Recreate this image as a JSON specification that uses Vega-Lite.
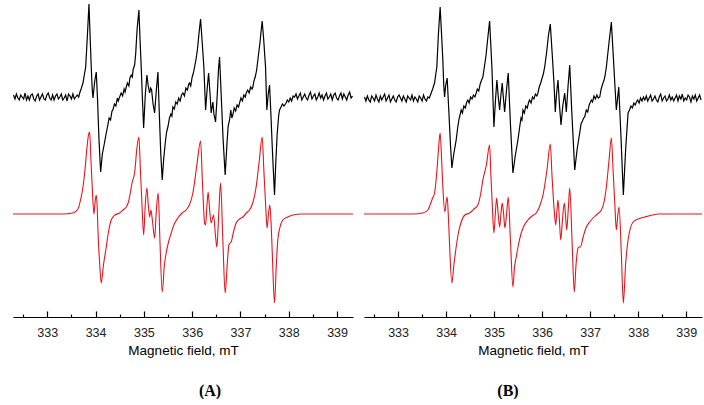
{
"$schema":"https://vega.github.io/schema/vega-lite/v6.json",
"padding":{"left":10,"top":0,"right":0,"bottom":0},
"spacing":11,
"bounds":"flush",
"background":"white",
"config":{"view":{"stroke":null},"font":"Liberation Sans",
"axis":{"domainColor":"#000","domainWidth":1.2,"tickColor":"#000","tickWidth":1.2,"labelColor":"#222","labelFontSize":12.5,"titleFontSize":13.5,"titleFontWeight":"normal","titleColor":"#000","grid":false}},
"datasets":{
"expA":[
{"f":332.30,"s":119},{"f":332.33,"s":115},{"f":332.36,"s":120},{"f":332.39,"s":116},{"f":332.42,"s":114},{"f":332.45,"s":119},{"f":332.48,"s":117},{"f":332.51,"s":115},{"f":332.54,"s":121},{"f":332.57,"s":114},{"f":332.60,"s":118},{"f":332.63,"s":114},{"f":332.66,"s":119},{"f":332.69,"s":120},{"f":332.72,"s":115},{"f":332.75,"s":113},{"f":332.78,"s":118},{"f":332.81,"s":120},{"f":332.84,"s":114},{"f":332.87,"s":117},{"f":332.90,"s":120},{"f":332.93,"s":115},{"f":332.96,"s":114},{"f":332.99,"s":119},{"f":333.02,"s":121},{"f":333.05,"s":116},{"f":333.08,"s":114},{"f":333.11,"s":119},{"f":333.14,"s":114},{"f":333.17,"s":118},{"f":333.20,"s":120},{"f":333.23,"s":115},{"f":333.26,"s":117},{"f":333.29,"s":120},{"f":333.32,"s":114},{"f":333.35,"s":116},{"f":333.38,"s":119},{"f":333.41,"s":113},{"f":333.44,"s":120},{"f":333.47,"s":118},{"f":333.50,"s":115},{"f":333.53,"s":120},{"f":333.56,"s":115},{"f":333.59,"s":117},{"f":333.62,"s":119},{"f":333.65,"s":117},
{"f":333.677,"s":122},{"f":333.70,"s":125},{"f":333.739,"s":131},{"f":333.77,"s":140},{"f":333.795,"s":147},{"f":333.832,"s":180},{"f":333.863,"s":210},{"f":333.885,"s":180},{"f":333.910,"s":147},{"f":333.93,"s":125},{"f":333.946,"s":116},{"f":333.98,"s":132},{"f":334.014,"s":142},{"f":334.04,"s":115},{"f":334.07,"s":75},{"f":334.105,"s":42},{"f":334.14,"s":60},{"f":334.18,"s":70},{"f":334.221,"s":81},{"f":334.25,"s":88},{"f":334.28,"s":96},{"f":334.31,"s":94},{"f":334.34,"s":103},{"f":334.359,"s":104},{"f":334.39,"s":110},{"f":334.42,"s":108},{"f":334.45,"s":116},{"f":334.47,"s":113},{"f":334.498,"s":117},{"f":334.53,"s":121},{"f":334.56,"s":118},{"f":334.59,"s":125},{"f":334.61,"s":122},{"f":334.635,"s":127},{"f":334.66,"s":131},{"f":334.69,"s":128},{"f":334.71,"s":136},{"f":334.738,"s":139},{"f":334.76,"s":137},{"f":334.78,"s":145},{"f":334.808,"s":149},{"f":334.83,"s":160},{"f":334.86,"s":185},{"f":334.897,"s":204},{"f":334.92,"s":175},{"f":334.945,"s":147},{"f":334.97,"s":115},{"f":334.995,"s":86},{"f":335.03,"s":120},{"f":335.063,"s":139},{"f":335.09,"s":128},{"f":335.119,"s":121},{"f":335.14,"s":126},{"f":335.160,"s":124},{"f":335.19,"s":110},{"f":335.222,"s":101},{"f":335.26,"s":125},{"f":335.291,"s":142},{"f":335.32,"s":100},{"f":335.35,"s":60},{"f":335.380,"s":34},{"f":335.41,"s":55},{"f":335.44,"s":70},{"f":335.47,"s":82},{"f":335.497,"s":87},{"f":335.53,"s":96},{"f":335.56,"s":100},{"f":335.58,"s":98},{"f":335.601,"s":107},{"f":335.63,"s":105},{"f":335.66,"s":112},{"f":335.69,"s":110},{"f":335.72,"s":116},{"f":335.75,"s":113},{"f":335.78,"s":119},{"f":335.808,"s":121},{"f":335.84,"s":118},{"f":335.87,"s":126},{"f":335.90,"s":124},{"f":335.93,"s":130},{"f":335.946,"s":131},{"f":335.97,"s":128},{"f":336.00,"s":137},{"f":336.025,"s":141},{"f":336.050,"s":147},{"f":336.08,"s":155},{"f":336.11,"s":165},{"f":336.14,"s":180},{"f":336.174,"s":195},{"f":336.21,"s":170},{"f":336.242,"s":147},{"f":336.278,"s":104},{"f":336.31,"s":125},{"f":336.340,"s":141},{"f":336.37,"s":120},{"f":336.393,"s":101},{"f":336.429,"s":112},{"f":336.45,"s":100},{"f":336.484,"s":92},{"f":336.52,"s":120},{"f":336.545,"s":145},{"f":336.567,"s":157},{"f":336.60,"s":120},{"f":336.64,"s":75},{"f":336.683,"s":39},{"f":336.72,"s":70},{"f":336.745,"s":88},{"f":336.774,"s":94},{"f":336.80,"s":104},{"f":336.82,"s":96},{"f":336.842,"s":99},{"f":336.87,"s":106},{"f":336.90,"s":103},{"f":336.93,"s":109},{"f":336.96,"s":107},{"f":336.981,"s":111},{"f":337.01,"s":116},{"f":337.04,"s":113},{"f":337.07,"s":119},{"f":337.10,"s":117},{"f":337.118,"s":121},{"f":337.15,"s":124},{"f":337.18,"s":121},{"f":337.21,"s":127},{"f":337.24,"s":125},{"f":337.256,"s":127},{"f":337.28,"s":133},{"f":337.31,"s":138},{"f":337.335,"s":144},{"f":337.360,"s":154},{"f":337.40,"s":170},{"f":337.449,"s":193},{"f":337.48,"s":175},{"f":337.519,"s":147},{"f":337.546,"s":104},{"f":337.575,"s":120},{"f":337.602,"s":129},{"f":337.63,"s":100},{"f":337.66,"s":65},{"f":337.705,"s":19},{"f":337.73,"s":50},{"f":337.76,"s":80},{"f":337.79,"s":98},{"f":337.809,"s":104},{"f":337.84,"s":107},{"f":337.87,"s":110},{"f":337.90,"s":108},{"f":337.945,"s":111},{"f":337.97,"s":114},{"f":338.00,"s":112},{"f":338.03,"s":116},{"f":338.06,"s":113},{"f":338.09,"s":118},{"f":338.119,"s":117},
{"f":338.15,"s":120},{"f":338.18,"s":115},{"f":338.21,"s":118},{"f":338.24,"s":121},{"f":338.27,"s":114},{"f":338.30,"s":117},{"f":338.33,"s":120},{"f":338.36,"s":116},{"f":338.39,"s":114},{"f":338.42,"s":119},{"f":338.45,"s":122},{"f":338.48,"s":115},{"f":338.51,"s":118},{"f":338.54,"s":120},{"f":338.57,"s":114},{"f":338.60,"s":117},{"f":338.63,"s":121},{"f":338.66,"s":116},{"f":338.69,"s":119},{"f":338.72,"s":114},{"f":338.75,"s":118},{"f":338.78,"s":121},{"f":338.81,"s":115},{"f":338.84,"s":117},{"f":338.87,"s":120},{"f":338.90,"s":114},{"f":338.93,"s":119},{"f":338.96,"s":121},{"f":338.99,"s":116},{"f":339.02,"s":114},{"f":339.05,"s":118},{"f":339.08,"s":121},{"f":339.11,"s":115},{"f":339.14,"s":120},{"f":339.17,"s":117},{"f":339.20,"s":114},{"f":339.23,"s":119},{"f":339.26,"s":122},{"f":339.29,"s":116},{"f":339.32,"s":118}
],
"simA":[
{"f":332.29,"s":0},{"f":333.00,"s":0},{"f":333.325,"s":0},{"f":333.532,"s":1},{"f":333.635,"s":5},{"f":333.697,"s":16},{"f":333.739,"s":27},{"f":333.780,"s":44},{"f":333.821,"s":66},{"f":333.850,"s":78},{"f":333.877,"s":82},{"f":333.904,"s":54},{"f":333.931,"s":27},{"f":333.966,"s":0},{"f":333.990,"s":12},{"f":334.014,"s":19},{"f":334.035,"s":5},{"f":334.049,"s":-16},{"f":334.085,"s":-50},{"f":334.117,"s":-69},{"f":334.163,"s":-51},{"f":334.221,"s":-33},{"f":334.270,"s":-17},{"f":334.324,"s":-6},{"f":334.401,"s":-1},{"f":334.498,"s":1},{"f":334.570,"s":4},{"f":334.635,"s":7},{"f":334.680,"s":12},{"f":334.711,"s":19},{"f":334.759,"s":32},{"f":334.808,"s":41},{"f":334.856,"s":66},{"f":334.897,"s":77},{"f":334.928,"s":44},{"f":334.959,"s":11},{"f":334.995,"s":-21},{"f":335.028,"s":9},{"f":335.063,"s":26},{"f":335.090,"s":10},{"f":335.119,"s":-3},{"f":335.146,"s":4},{"f":335.180,"s":-8},{"f":335.222,"s":-24},{"f":335.260,"s":5},{"f":335.297,"s":21},{"f":335.332,"s":-26},{"f":335.380,"s":-78},{"f":335.425,"s":-51},{"f":335.462,"s":-39},{"f":335.510,"s":-28},{"f":335.566,"s":-19},{"f":335.630,"s":-10},{"f":335.704,"s":-4},{"f":335.790,"s":1},{"f":335.876,"s":4},{"f":335.950,"s":10},{"f":336.015,"s":21},{"f":336.097,"s":49},{"f":336.174,"s":73},{"f":336.211,"s":34},{"f":336.257,"s":-9},{"f":336.278,"s":-11},{"f":336.305,"s":8},{"f":336.331,"s":22},{"f":336.360,"s":5},{"f":336.393,"s":-9},{"f":336.443,"s":-1},{"f":336.480,"s":-20},{"f":336.511,"s":-33},{"f":336.550,"s":0},{"f":336.588,"s":31},{"f":336.635,"s":-26},{"f":336.683,"s":-79},{"f":336.729,"s":-48},{"f":336.760,"s":-31},{"f":336.785,"s":-29},{"f":336.807,"s":-28},{"f":336.860,"s":-17},{"f":336.911,"s":-9},{"f":336.980,"s":-5},{"f":337.049,"s":-3},{"f":337.120,"s":1},{"f":337.188,"s":4},{"f":337.260,"s":12},{"f":337.324,"s":27},{"f":337.391,"s":54},{"f":337.449,"s":77},{"f":337.484,"s":44},{"f":337.519,"s":11},{"f":337.552,"s":-14},{"f":337.580,"s":0},{"f":337.608,"s":9},{"f":337.635,"s":-10},{"f":337.660,"s":-41},{"f":337.705,"s":-89},{"f":337.742,"s":-51},{"f":337.773,"s":-26},{"f":337.820,"s":-13},{"f":337.877,"s":-6},{"f":337.980,"s":-3},{"f":338.084,"s":-1},{"f":338.290,"s":0},{"f":339.33,"s":0}
],
"expB":[
{"f":332.30,"s":117},{"f":332.33,"s":113},{"f":332.36,"s":118},{"f":332.39,"s":114},{"f":332.42,"s":112},{"f":332.45,"s":118},{"f":332.48,"s":116},{"f":332.51,"s":113},{"f":332.54,"s":119},{"f":332.57,"s":115},{"f":332.60,"s":112},{"f":332.63,"s":118},{"f":332.66,"s":114},{"f":332.69,"s":117},{"f":332.72,"s":120},{"f":332.75,"s":113},{"f":332.78,"s":116},{"f":332.81,"s":119},{"f":332.84,"s":112},{"f":332.87,"s":115},{"f":332.90,"s":118},{"f":332.93,"s":114},{"f":332.96,"s":112},{"f":332.99,"s":117},{"f":333.02,"s":119},{"f":333.05,"s":116},{"f":333.08,"s":113},{"f":333.11,"s":118},{"f":333.14,"s":115},{"f":333.17,"s":112},{"f":333.20,"s":118},{"f":333.23,"s":116},{"f":333.26,"s":114},{"f":333.29,"s":119},{"f":333.32,"s":113},{"f":333.35,"s":117},{"f":333.38,"s":115},{"f":333.41,"s":112},{"f":333.44,"s":118},{"f":333.47,"s":116},{"f":333.50,"s":113},{"f":333.53,"s":119},{"f":333.56,"s":115},{"f":333.59,"s":113},{"f":333.62,"s":117},{"f":333.65,"s":116},
{"f":333.682,"s":120},{"f":333.72,"s":125},{"f":333.759,"s":131},{"f":333.78,"s":138},{"f":333.807,"s":147},{"f":333.84,"s":180},{"f":333.876,"s":207},{"f":333.90,"s":185},{"f":333.932,"s":154},{"f":333.95,"s":130},{"f":333.968,"s":117},{"f":333.99,"s":128},{"f":334.022,"s":136},{"f":334.06,"s":100},{"f":334.09,"s":70},{"f":334.120,"s":46},{"f":334.16,"s":60},{"f":334.210,"s":74},{"f":334.24,"s":86},{"f":334.27,"s":95},{"f":334.29,"s":99},{"f":334.314,"s":104},{"f":334.34,"s":101},{"f":334.37,"s":108},{"f":334.40,"s":106},{"f":334.43,"s":112},{"f":334.454,"s":114},{"f":334.48,"s":111},{"f":334.51,"s":117},{"f":334.54,"s":115},{"f":334.57,"s":119},{"f":334.60,"s":117},{"f":334.627,"s":121},{"f":334.65,"s":125},{"f":334.68,"s":123},{"f":334.71,"s":130},{"f":334.74,"s":134},{"f":334.766,"s":137},{"f":334.80,"s":148},{"f":334.83,"s":158},{"f":334.86,"s":172},{"f":334.906,"s":193},{"f":334.93,"s":170},{"f":334.954,"s":147},{"f":334.996,"s":87},{"f":335.03,"s":115},{"f":335.058,"s":134},{"f":335.085,"s":118},{"f":335.115,"s":104},{"f":335.14,"s":118},{"f":335.169,"s":131},{"f":335.195,"s":115},{"f":335.219,"s":102},{"f":335.26,"s":125},{"f":335.294,"s":141},{"f":335.34,"s":90},{"f":335.392,"s":41},{"f":335.44,"s":58},{"f":335.496,"s":74},{"f":335.53,"s":86},{"f":335.56,"s":96},{"f":335.58,"s":94},{"f":335.601,"s":104},{"f":335.63,"s":101},{"f":335.66,"s":108},{"f":335.69,"s":106},{"f":335.72,"s":112},{"f":335.740,"s":114},{"f":335.77,"s":111},{"f":335.80,"s":117},{"f":335.83,"s":115},{"f":335.86,"s":120},{"f":335.89,"s":118},{"f":335.913,"s":121},{"f":335.94,"s":127},{"f":335.97,"s":131},{"f":336.00,"s":136},{"f":336.025,"s":140},{"f":336.053,"s":147},{"f":336.09,"s":160},{"f":336.13,"s":178},{"f":336.170,"s":190},{"f":336.21,"s":160},{"f":336.247,"s":131},{"f":336.274,"s":102},{"f":336.30,"s":120},{"f":336.331,"s":134},{"f":336.36,"s":110},{"f":336.393,"s":89},{"f":336.43,"s":108},{"f":336.470,"s":121},{"f":336.49,"s":110},{"f":336.504,"s":102},{"f":336.54,"s":128},{"f":336.575,"s":149},{"f":336.62,"s":100},{"f":336.679,"s":44},{"f":336.73,"s":65},{"f":336.783,"s":81},{"f":336.81,"s":90},{"f":336.84,"s":93},{"f":336.865,"s":96},{"f":336.887,"s":97},{"f":336.92,"s":104},{"f":336.95,"s":102},{"f":336.98,"s":109},{"f":337.025,"s":114},{"f":337.05,"s":112},{"f":337.08,"s":118},{"f":337.11,"s":115},{"f":337.14,"s":119},{"f":337.17,"s":116},{"f":337.200,"s":117},{"f":337.23,"s":125},{"f":337.26,"s":130},{"f":337.29,"s":134},{"f":337.31,"s":138},{"f":337.338,"s":147},{"f":337.39,"s":170},{"f":337.442,"s":192},{"f":337.48,"s":160},{"f":337.513,"s":131},{"f":337.546,"s":104},{"f":337.57,"s":115},{"f":337.596,"s":127},{"f":337.64,"s":80},{"f":337.692,"s":19},{"f":337.74,"s":65},{"f":337.790,"s":101},{"f":337.82,"s":104},{"f":337.85,"s":108},{"f":337.88,"s":106},{"f":337.91,"s":111},{"f":337.94,"s":109},{"f":337.963,"s":112},{"f":337.99,"s":114},{"f":338.02,"s":111},{"f":338.05,"s":116},{"f":338.08,"s":113},{"f":338.11,"s":117},{"f":338.14,"s":114},
{"f":338.17,"s":118},{"f":338.20,"s":113},{"f":338.23,"s":116},{"f":338.26,"s":119},{"f":338.29,"s":113},{"f":338.32,"s":115},{"f":338.35,"s":118},{"f":338.38,"s":114},{"f":338.41,"s":112},{"f":338.44,"s":117},{"f":338.47,"s":120},{"f":338.50,"s":113},{"f":338.53,"s":116},{"f":338.56,"s":118},{"f":338.59,"s":113},{"f":338.62,"s":115},{"f":338.65,"s":119},{"f":338.68,"s":114},{"f":338.71,"s":117},{"f":338.74,"s":113},{"f":338.77,"s":116},{"f":338.80,"s":119},{"f":338.83,"s":113},{"f":338.86,"s":118},{"f":338.89,"s":115},{"f":338.92,"s":120},{"f":338.95,"s":113},{"f":338.98,"s":116},{"f":339.01,"s":114},{"f":339.04,"s":119},{"f":339.07,"s":117},{"f":339.10,"s":112},{"f":339.13,"s":118},{"f":339.16,"s":115},{"f":339.19,"s":119},{"f":339.22,"s":113},{"f":339.25,"s":116},{"f":339.28,"s":119},{"f":339.31,"s":114}
],
"simB":[
{"f":332.29,"s":0},{"f":333.00,"s":0},{"f":333.300,"s":0},{"f":333.515,"s":1},{"f":333.620,"s":4},{"f":333.682,"s":11},{"f":333.720,"s":16},{"f":333.759,"s":21},{"f":333.790,"s":33},{"f":333.818,"s":49},{"f":333.850,"s":70},{"f":333.876,"s":81},{"f":333.907,"s":54},{"f":333.932,"s":27},{"f":333.974,"s":2},{"f":334.000,"s":12},{"f":334.022,"s":17},{"f":334.045,"s":0},{"f":334.068,"s":-26},{"f":334.120,"s":-69},{"f":334.162,"s":-51},{"f":334.210,"s":-33},{"f":334.260,"s":-18},{"f":334.314,"s":-8},{"f":334.391,"s":-1},{"f":334.489,"s":1},{"f":334.580,"s":5},{"f":334.662,"s":9},{"f":334.720,"s":20},{"f":334.766,"s":34},{"f":334.839,"s":49},{"f":334.906,"s":69},{"f":334.933,"s":39},{"f":334.960,"s":11},{"f":334.996,"s":-19},{"f":335.025,"s":0},{"f":335.052,"s":16},{"f":335.085,"s":0},{"f":335.115,"s":-13},{"f":335.142,"s":0},{"f":335.169,"s":11},{"f":335.198,"s":0},{"f":335.225,"s":-14},{"f":335.260,"s":0},{"f":335.294,"s":17},{"f":335.340,"s":-26},{"f":335.392,"s":-73},{"f":335.423,"s":-54},{"f":335.461,"s":-43},{"f":335.510,"s":-30},{"f":335.565,"s":-19},{"f":335.630,"s":-11},{"f":335.705,"s":-6},{"f":335.790,"s":-2},{"f":335.878,"s":1},{"f":335.950,"s":8},{"f":336.018,"s":19},{"f":336.101,"s":44},{"f":336.170,"s":70},{"f":336.205,"s":39},{"f":336.247,"s":7},{"f":336.283,"s":-11},{"f":336.308,"s":3},{"f":336.331,"s":14},{"f":336.360,"s":-6},{"f":336.387,"s":-26},{"f":336.425,"s":-5},{"f":336.462,"s":11},{"f":336.490,"s":-3},{"f":336.512,"s":-16},{"f":336.545,"s":5},{"f":336.575,"s":26},{"f":336.623,"s":-26},{"f":336.670,"s":-78},{"f":336.706,"s":-51},{"f":336.748,"s":-34},{"f":336.772,"s":-33},{"f":336.796,"s":-33},{"f":336.860,"s":-22},{"f":336.921,"s":-13},{"f":336.990,"s":-8},{"f":337.060,"s":-4},{"f":337.150,"s":0},{"f":337.234,"s":4},{"f":337.290,"s":12},{"f":337.338,"s":27},{"f":337.394,"s":54},{"f":337.442,"s":76},{"f":337.478,"s":44},{"f":337.513,"s":11},{"f":337.546,"s":-16},{"f":337.575,"s":-2},{"f":337.603,"s":7},{"f":337.651,"s":-41},{"f":337.692,"s":-89},{"f":337.738,"s":-51},{"f":337.790,"s":-26},{"f":337.895,"s":-8},{"f":338.000,"s":-5},{"f":338.139,"s":-3},{"f":338.300,"s":-1},{"f":338.420,"s":0},{"f":339.33,"s":0}
]
},
"hconcat":[
{"width":340,"height":317,
"title":{"text":"(A)","orient":"bottom","font":"Liberation Serif","fontWeight":"bold","fontSize":16,"color":"#000","anchor":"middle","dx":27,"offset":26},
"resolve":{"axis":{"x":"independent"}},
"layer":[
{"data":{"name":"expA"},"mark":{"type":"line","color":"#000","strokeWidth":1.2},
"encoding":{"x":{"field":"f","type":"quantitative","scale":{"domain":[332.29,339.33],"nice":false,"zero":false},
"axis":{"orient":"bottom","values":[333,334,335,336,337,338,339],"tickSize":-6,"labelPadding":15,"format":"d","title":"Magnetic field, mT","titlePadding":5}},
"y":{"field":"s","type":"quantitative","scale":{"domain":[-103,214],"nice":false,"zero":false},"axis":null}}},
{"data":{"name":"simA"},"mark":{"type":"line","color":"#e8141c","strokeWidth":1.1,"interpolate":"monotone"},
"encoding":{"x":{"field":"f","type":"quantitative","scale":{"domain":[332.29,339.33],"nice":false,"zero":false},
"axis":{"orient":"bottom","values":[332.5,333.5,334.5,335.5,336.5,337.5,338.5],"tickSize":-3,"labels":false,"domain":false,"title":null}},
"y":{"field":"s","type":"quantitative","scale":{"domain":[-103,214],"nice":false,"zero":false},"axis":null}}}
]},
{"width":338,"height":317,
"title":{"text":"(B)","orient":"bottom","font":"Liberation Serif","fontWeight":"bold","fontSize":16,"color":"#000","anchor":"middle","dx":-25,"offset":26},
"resolve":{"axis":{"x":"independent"}},
"layer":[
{"data":{"name":"expB"},"mark":{"type":"line","color":"#000","strokeWidth":1.2},
"encoding":{"x":{"field":"f","type":"quantitative","scale":{"domain":[332.29,339.33],"nice":false,"zero":false},
"axis":{"orient":"bottom","values":[333,334,335,336,337,338,339],"tickSize":-6,"labelPadding":15,"format":"d","title":"Magnetic field, mT","titlePadding":5}},
"y":{"field":"s","type":"quantitative","scale":{"domain":[-103,214],"nice":false,"zero":false},"axis":null}}},
{"data":{"name":"simB"},"mark":{"type":"line","color":"#e8141c","strokeWidth":1.1,"interpolate":"monotone"},
"encoding":{"x":{"field":"f","type":"quantitative","scale":{"domain":[332.29,339.33],"nice":false,"zero":false},
"axis":{"orient":"bottom","values":[332.5,333.5,334.5,335.5,336.5,337.5,338.5],"tickSize":-3,"labels":false,"domain":false,"title":null}},
"y":{"field":"s","type":"quantitative","scale":{"domain":[-103,214],"nice":false,"zero":false},"axis":null}}}
]}
]
}
